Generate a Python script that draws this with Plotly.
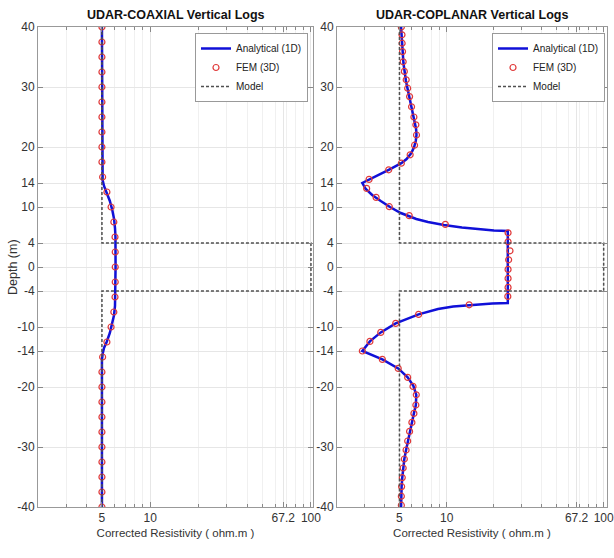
import plotly.graph_objects as go
import math

# ---------------- DATA ----------------
# Coaxial analytical (1D) log
coax_line_depth = [40, 15.5, 14.5, 13.5, 12.5, 11, 9.5, 8, 6.5, 5, 0, -5, -6.5, -8, -9.5, -11, -12.5, -13.5, -14.5, -15.5, -40]
coax_line_res = [5.0, 5.0, 5.05, 5.15, 5.35, 5.6, 5.8, 5.95, 6.03, 6.07, 6.08, 6.07, 6.03, 5.95, 5.8, 5.6, 5.35, 5.15, 5.05, 5.0, 5.0]

# Coaxial FEM (3D) points
coax_fem_depth = [40, 37.5, 35, 32.5, 30, 27.5, 25, 22.5, 20, 17.5, 15, 12.5, 10, 7.5, 5, 2.5, 0,
                  -2.5, -5, -7.5, -10, -12.5, -15, -17.5, -20, -22.5, -25, -27.5, -30, -32.5, -35, -37.5, -40]
coax_fem_res = [5.0, 5.0, 5.0, 5.0, 5.0, 5.0, 5.0, 5.0, 5.0, 5.0, 5.05, 5.37, 5.7, 5.93, 6.03, 6.05, 6.05,
                6.05, 6.03, 5.93, 5.7, 5.37, 5.05, 5.0, 5.0, 5.0, 5.0, 5.0, 5.0, 5.0, 5.0, 5.0, 5.0]

# Coplanar analytical (1D) log
copl_line_depth = [40, 37, 34, 31, 28, 25, 23, 22, 21, 20, 19, 18, 17.3, 16.2, 15, 14,
                   13, 12, 11, 10, 9, 8, 7.5, 7, 6.6, 6.3, 6.1, 6.0,
                   -6.0, -6.1, -6.3, -6.6, -7.0, -7.9, -9.4, -10.9, -12.4, -14,
                   -15.4, -16.9, -18.4, -19.8, -21.3, -23, -24.4, -25.9, -27.4, -29, -30.5, -32, -33.5, -35.1, -36.6, -38.2, -40]
copl_line_res = [5.12, 5.2, 5.3, 5.5, 5.82, 6.15, 6.38, 6.42, 6.35, 6.2, 5.95, 5.55, 5.14, 4.27, 3.45, 2.9,
                 3.05, 3.35, 3.8, 4.35, 5.1, 6.4, 7.6, 9.6, 12.5, 16.0, 20.0, 24.5,
                 24.5, 19.5, 14.5, 11.0, 8.8, 6.62, 4.73, 3.8, 3.24, 2.9,
                 3.89, 4.91, 5.64, 6.13, 6.4, 6.36, 6.18, 6.0, 5.8, 5.64, 5.51, 5.37, 5.28, 5.21, 5.16, 5.14, 5.12]

# Coplanar FEM (3D) points
copl_fem_depth = [40, 38.7, 37.3, 35.9, 34.2, 32.6, 31.2, 29.8, 28.4, 26.7, 25.0, 23.7, 22.0, 20.3, 18.7, 17.3,
                  16.2, 14.6, 13.1, 11.6, 10.05, 8.56, 7.1,
                  5.7, 4.2, 2.7, 1.2, -0.4, -1.9, -3.4, -4.9,
                  -6.3, -7.9, -9.4, -10.9, -12.4, -14.0, -15.4, -16.9, -18.4, -19.9, -21.3, -23, -24.4,
                  -25.9, -27.4, -29, -30.5, -32, -33.5, -35.1, -36.6, -38.2, -39.7]
copl_fem_res = [5.14, 5.19, 5.2, 5.23, 5.28, 5.37, 5.52, 5.64, 5.8, 5.97, 6.18, 6.36, 6.42, 6.24, 5.85, 5.14,
                4.27, 3.2, 3.09, 3.55, 4.31, 5.77, 9.8,
                24.6, 24.6, 25.3, 24.8, 24.6, 24.6, 24.6, 24.5,
                13.9, 6.62, 4.73, 3.8, 3.24, 2.9, 3.89, 4.91, 5.64, 6.1, 6.4, 6.36, 6.18,
                6.0, 5.8, 5.64, 5.51, 5.37, 5.28, 5.21, 5.16, 5.14, 5.14]

# Resistivity model (layered)
model_depth = [40, 4, 4, -4, -4, -40]
model_res = [5, 5, 100, 100, 5, 5]

x_tickvals = [5, 10, 67.2, 100]
x_ticktext = ["5", "10", "67.2", "100"]
x_minor_grid = [2, 3, 4, 6, 7, 8, 9, 20, 30, 40, 50, 60, 70, 80, 90]
y_tickvals = [-40, -30, -20, -14, -10, -4, 0, 4, 10, 14, 20, 30, 40]
y_ticktext = [str(v) for v in y_tickvals]

titles = ["UDAR-COAXIAL Vertical Logs", "UDAR-COPLANAR Vertical Logs"]
legend_names = ["Analytical (1D)", "FEM (3D)", "Model"]
x_title = "Corrected Resistivity ( ohm.m )"
y_title = "Depth (m)"

# ---------------- FIGURE ----------------
FONT = "Liberation Sans Narrow, Liberation Sans, Arial, sans-serif"
BLUE = "#1010d8"
RED = "#e03a3a"
MODEL = "#505050"

fig = go.Figure()
panels = [
    (coax_line_res, coax_line_depth, coax_fem_res, coax_fem_depth, "x", "y", "legend"),
    (copl_line_res, copl_line_depth, copl_fem_res, copl_fem_depth, "x2", "y2", "legend2"),
]
for lx, ly, fx, fy, xa, ya, lg in panels:
    fig.add_trace(go.Scatter(x=lx, y=ly, mode="lines", name=legend_names[0],
                             line=dict(color=BLUE, width=2.5), xaxis=xa, yaxis=ya, legend=lg))
    fig.add_trace(go.Scatter(x=fx, y=fy, mode="markers", name=legend_names[1],
                             marker=dict(symbol="circle-open", color=RED, size=6, line=dict(width=1.2, color=RED)),
                             xaxis=xa, yaxis=ya, legend=lg))
    fig.add_trace(go.Scatter(x=model_res, y=model_depth, mode="lines", name=legend_names[2],
                             line=dict(color=MODEL, width=1.5, dash="3px,2px"), xaxis=xa, yaxis=ya, legend=lg))

# body margin is removed by post_script below, so figure px == screen px
W, H = 614, 558
left_s, right_s, top_s, bot_s = 38, 607, 27, 507
L, R, T, B = left_s, W - right_s, top_s, H - bot_s
pw = right_s - left_s
ph = bot_s - top_s
d1 = [0, (313 - left_s) / pw]
d2 = [(337 - left_s) / pw, 1]

common_x = dict(type="log", tickmode="array", tickvals=x_tickvals, ticktext=x_ticktext,
                showgrid=True, gridcolor="#e6e6e6", gridwidth=1,
                minor=dict(tickmode="array", tickvals=x_minor_grid, showgrid=True, gridcolor="#f0f0f0",
                           ticks="inside", ticklen=3, tickcolor="#888"),
                ticks="inside", ticklen=5, tickcolor="#888",
                showline=True, linecolor="#999", linewidth=1, mirror="allticks",
                tickfont=dict(family=FONT, size=12, color="#333"), ticklabeloverflow="allow",
                title=dict(text=x_title, font=dict(family=FONT, size=11.5, color="#333"), standoff=4),
                zeroline=False, automargin=False)
common_y = dict(range=[-40, 40], tickmode="array", tickvals=y_tickvals, ticktext=y_ticktext,
                showgrid=True, gridcolor="#e6e6e6", gridwidth=1,
                ticks="inside", ticklen=5, tickcolor="#888",
                showline=True, linecolor="#999", linewidth=1, mirror="allticks",
                tickfont=dict(family=FONT, size=12, color="#333"), zeroline=False, automargin=False)

leg_common = dict(bgcolor="white", bordercolor="#999", borderwidth=1,
                  font=dict(family=FONT, size=10, color="#222"), tracegroupgap=0, itemwidth=30,
                  y=(bot_s - 33) / ph, yanchor="top", xanchor="right")

fig.update_layout(
    width=W, height=H, margin=dict(l=L, r=R, t=T, b=B, autoexpand=False),
    paper_bgcolor="white", plot_bgcolor="white",
    xaxis=dict(common_x, domain=d1, anchor="y", range=[math.log10(2), math.log10(103)]),
    xaxis2=dict(common_x, domain=d2, anchor="y2", range=[math.log10(2), math.log10(105)]),
    yaxis=dict(common_y, domain=[0, 1], anchor="x"),
    yaxis2=dict(common_y, domain=[0, 1], anchor="x2"),
    showlegend=True,
    legend=dict(leg_common, x=(308 - left_s) / pw),
    legend2=dict(leg_common, x=(605 - left_s) / pw),
)

# Panel titles and y-axis label
for i, d in enumerate([d1, d2]):
    fig.add_annotation(text="<b>" + titles[i] + "</b>", xref="paper", yref="paper",
                       x=(d[0] + d[1]) / 2, xanchor="center", y=1, yanchor="bottom", yshift=3,
                       showarrow=False, font=dict(family=FONT, size=12.5, color="#111"))
fig.add_annotation(text=y_title, xref="paper", yref="paper", x=0, xanchor="center",
                   xshift=13 - left_s, y=0.5, yanchor="middle", textangle=-90, showarrow=False,
                   font=dict(family=FONT, size=12.5, color="#333"))

fig.write_html("out.html", config={"displayModeBar": False},
               post_script="document.body.style.margin='0';document.body.style.overflow='hidden';")
